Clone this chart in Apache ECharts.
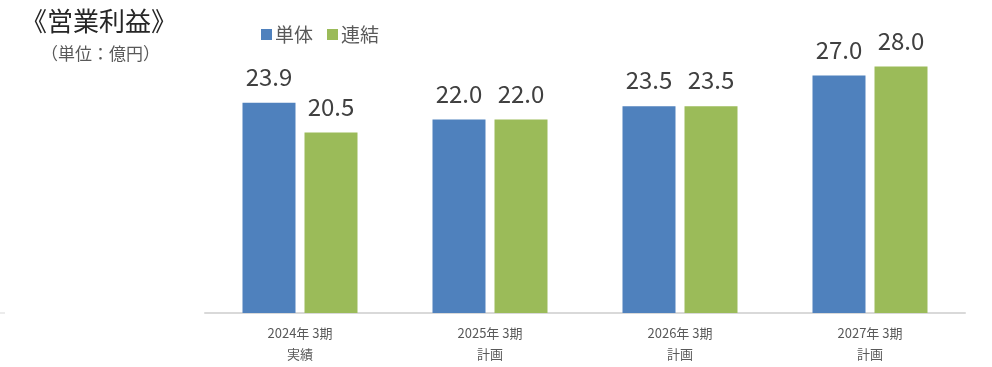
<!DOCTYPE html>
<html>
<head>
<meta charset="utf-8">
<script src="https://cdn.jsdelivr.net/npm/echarts@6/dist/echarts.min.js"></script>
<style>
html,body{margin:0;padding:0;background:#fff;}
#c{width:992px;height:367px;}
</style>
</head>
<body>
<div id="c"></div>
<script>
var categories = ['2024年 3期\n実績', '2025年 3期\n計画', '2026年 3期\n計画', '2027年 3期\n計画'];
var seriesNames = ['単体', '連結'];
var tankai = [23.9, 22.0, 23.5, 27.0];
var renketsu = [20.5, 22.0, 23.5, 28.0];

var FONT = '"Noto Sans CJK JP", "Noto Sans", sans-serif';
var chart = echarts.init(document.getElementById('c'), null, {renderer: 'canvas'});
var labelCfg = {
  show: true,
  position: 'top',
  distance: 14,
  fontSize: 24,
  color: '#404040',
  fontFamily: FONT,
  formatter: function (p) { return p.value.toFixed(1); }
};
chart.setOption({
  animation: false,
  backgroundColor: '#ffffff',
  textStyle: {fontFamily: FONT},
  title: [
    {text: '《営業利益》', left: 16, top: 3, textStyle: {fontSize: 26, fontWeight: 'normal', color: '#262626', fontFamily: FONT}},
    {text: '（単位：億円）', left: 36, top: 40, textStyle: {fontSize: 17, fontWeight: 'normal', color: '#595959', fontFamily: FONT}}
  ],
  legend: {
    data: seriesNames,
    left: 256,
    top: 20,
    itemWidth: 11,
    itemHeight: 11,
    itemGap: 14,
    icon: 'rect',
    textStyle: {fontSize: 19, color: '#595959', fontFamily: FONT, padding: [0, 0, 0, -2]}
  },
  grid: {left: 205, right: 27, top: 49, bottom: 54, containLabel: false},
  xAxis: {
    type: 'category',
    data: categories,
    axisLine: {show: true, lineStyle: {color: '#d9d9d9', width: 2}},
    axisTick: {show: false},
    axisLabel: {fontSize: 13, color: '#595959', lineHeight: 21, margin: 10, fontFamily: FONT}
  },
  yAxis: {
    type: 'value',
    min: 0,
    max: 30,
    show: false,
    splitLine: {show: false}
  },
  series: [
    {name: seriesNames[0], type: 'bar', data: tankai, barWidth: 53, barGap: '17%',
     itemStyle: {color: '#4F81BD'}, label: labelCfg},
    {name: seriesNames[1], type: 'bar', data: renketsu, barWidth: 53, barGap: '17%',
     itemStyle: {color: '#9BBB59'}, label: labelCfg}
  ],
  graphic: [
    {type: 'line', shape: {x1: 0, y1: 313, x2: 5, y2: 313}, style: {stroke: '#d9d9d9', lineWidth: 1}}
  ]
});
</script>
</body>
</html>
